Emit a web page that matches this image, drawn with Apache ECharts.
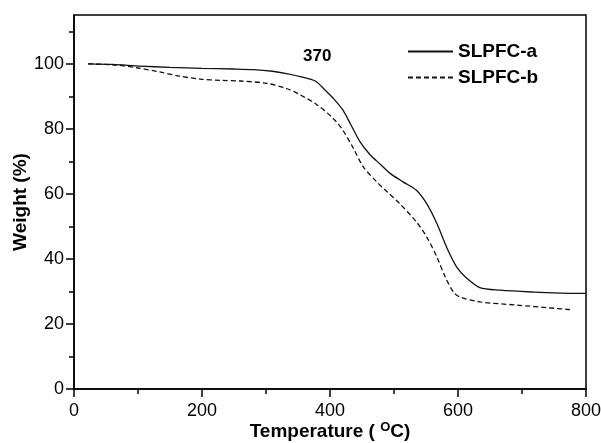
<!DOCTYPE html>
<html>
<head>
<meta charset="utf-8">
<script src="https://cdn.jsdelivr.net/npm/echarts@6/dist/echarts.min.js"></script>
<style>
html,body{margin:0;padding:0;background:#fff;}
#chart{width:601px;height:443px;}
</style>
</head>
<body>
<div id="chart"></div>
<script>
// Temperature (°C), Weight (%)
var seriesNames = ['SLPFC-a', 'SLPFC-b'];
var seriesA = [[22,100],[60,99.8],[103,99.3],[150,98.9],[200,98.6],[250,98.4],[280,98.2],[310,97.7],[332,97.0],[355,96.0],[377,94.7],[393,91.8],[405,89.4],[420,85.8],[432,81.5],[447,76],[462,72.2],[478,69.2],[494,66.3],[514,63.7],[535,61.1],[551,57],[567,50.9],[582,43.7],[598,37.5],[614,34],[634,31.2],[666,30.4],[718,29.8],[760,29.5],[800,29.4]];
var seriesB = [[22,100],[67,99.6],[100,98.7],[134,97.5],[165,96.2],[197,95.3],[230,94.9],[259,94.7],[301,94.0],[332,92.4],[353,90.5],[379,87.5],[405,83.2],[420,79.6],[436,74.2],[452,68.3],[473,63.7],[490,60.5],[509,57],[535,51.4],[551,46.8],[567,40.6],[580,34.5],[593,29.8],[603,28.3],[634,26.8],[692,25.8],[740,25.0],[775,24.4]];
var yMajorTicks = [0,20,40,60,80,100];
var yMinorTicks = [10,30,50,70,90,110];
var annotation = {text: '370', coord: [380, 102.3]};

var FONT = "'Liberation Sans', Arial, sans-serif";
var chart = echarts.init(document.getElementById('chart'));
var yBase = {
  type: 'value', min: 0, max: 115, interval: 20, position: 'left',
  splitLine: {show: false}
};
chart.setOption({
  animation: false,
  backgroundColor: '#fff',
  grid: {left: 74, right: 15, top: 15, bottom: 54, show: true, borderColor: '#000', borderWidth: 1.5, backgroundColor: 'transparent', containLabel: false, outerBoundsMode: 'none'},
  legend: {
    data: seriesNames, orient: 'vertical', left: 402, top: 37,
    itemWidth: 45, itemHeight: 18, itemGap: 7,
    itemStyle: {opacity: 0, borderWidth: 0},
    textStyle: {fontFamily: FONT, fontWeight: 'bold', fontSize: 19, color: '#000'}
  },
  xAxis: {
    type: 'value', min: 0, max: 800, interval: 200,
    name: 'Temperature ( {sup|O}C)', nameLocation: 'middle', nameGap: 32, nameMoveOverlap: false,
    nameTextStyle: {fontFamily: FONT, fontWeight: 'bold', fontSize: 19, color: '#000',
      rich: {sup: {fontFamily: FONT, fontSize: 13, fontWeight: 'bold', color: '#000', verticalAlign: 'top', padding: [0,0,8,0]}}},
    axisLine: {show: true, onZero: false, lineStyle: {color: '#000', width: 1.5}},
    axisTick: {show: true, inside: false, length: 8, lineStyle: {color: '#000', width: 1.5}},
    minorTick: {show: true, splitNumber: 2, length: 5, lineStyle: {color: '#000', width: 1.5}},
    axisLabel: {fontFamily: FONT, fontSize: 18, color: '#000', margin: 13},
    splitLine: {show: false}
  },
  yAxis: [
    Object.assign({}, yBase, {
      name: 'Weight (%)', nameLocation: 'middle', nameGap: 44, nameMoveOverlap: false,
      nameTextStyle: {fontFamily: FONT, fontWeight: 'bold', fontSize: 19, color: '#000'},
      axisLine: {show: true, onZero: false, lineStyle: {color: '#000', width: 1.5}},
      axisTick: {show: true, inside: false, length: 8, customValues: yMajorTicks, lineStyle: {color: '#000', width: 1.5}},
      axisLabel: {fontFamily: FONT, fontSize: 18, color: '#000', margin: 10, customValues: yMajorTicks}
    }),
    Object.assign({}, yBase, {
      axisLine: {show: false},
      axisTick: {show: true, inside: false, length: 5, customValues: yMinorTicks, lineStyle: {color: '#000', width: 1.5}},
      axisLabel: {show: false}
    })
  ],
  series: [
    {
      name: seriesNames[0], type: 'line', data: seriesA, symbol: 'none', smooth: 0.3,
      lineStyle: {color: '#111', width: 1.3, type: 'solid'}, itemStyle: {color: '#111'},
      markPoint: {
        symbol: 'circle', symbolSize: 0,
        label: {show: true, position: 'inside', formatter: annotation.text, fontFamily: FONT, fontWeight: 'bold', fontSize: 17, color: '#000'},
        data: [{coord: annotation.coord}]
      }
    },
    {
      name: seriesNames[1], type: 'line', data: seriesB, symbol: 'none', smooth: 0.3,
      lineStyle: {color: '#111', width: 1.3, type: [5, 3]}, itemStyle: {color: '#111'}
    }
  ]
});
</script>
</body>
</html>
